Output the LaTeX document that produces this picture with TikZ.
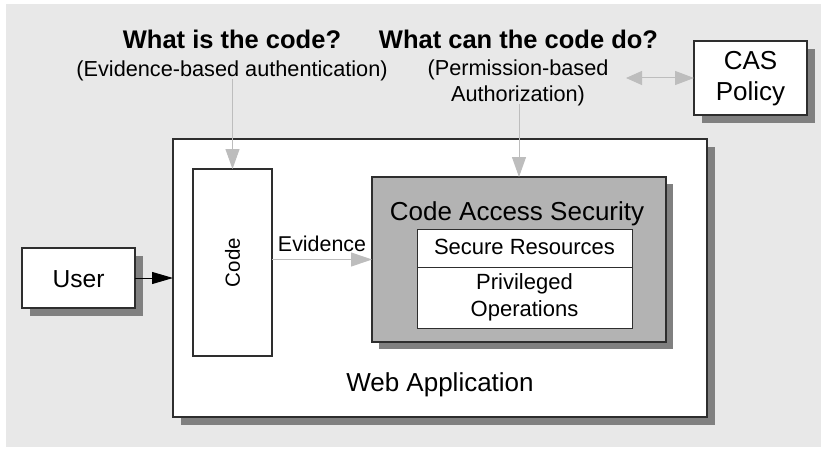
\documentclass[tikz,border=0pt]{standalone}
\usepackage{fontspec}
\setmainfont{Liberation Sans}
\usetikzlibrary{shadows,arrows.meta}
\definecolor{bgray}{HTML}{E8E8E8}
\definecolor{shgray}{HTML}{808080}
\definecolor{casgray}{HTML}{B3B3B3}
\definecolor{argray}{HTML}{BDBDBD}
\definecolor{edge}{HTML}{2E2E2E}
\tikzset{
  box/.style={draw=edge, line width=1.2pt, fill=white, inner sep=0pt, outer sep=0pt},
  shbox/.style={box, drop shadow={shadow xshift=8pt, shadow yshift=-8pt, fill=shgray, opacity=1}},
  lbl/.style={anchor=base, inner sep=0pt, font=\fontsize{22}{26}\selectfont},
  biglbl/.style={anchor=base, inner sep=0pt, font=\fontsize{26}{30}\selectfont},
  head/.style={anchor=base, inner sep=0pt, font=\fontsize{25.5}{30}\selectfont\bfseries},
  grayarrow/.style={draw=argray, line width=1pt, -{Triangle[length=20pt,width=14pt]}, color=argray},
}
\begin{document}
\begin{tikzpicture}[x=1pt,y=-1pt]
\useasboundingbox (0,0) rectangle (825,452);
\fill[bgray] (6,4) rectangle (821,447);

% headings
\node[head] (q1) at (232,49) {What is the code?};
\node[head] (q2) at (518.5,49) {What can the code do?};
\node[lbl, font=\fontsize{21.7}{26}\selectfont] (ev) at (232,77) {(Evidence-based authentication)};
\node[lbl, font=\fontsize{21.7}{26}\selectfont] (perm) at (518,76) {(Permission-based};
\node[lbl, font=\fontsize{21.7}{26}\selectfont] (auth) at (518,101) {Authorization)};

% CAS policy
\node[shbox, minimum width=113pt, minimum height=74pt] (policy) at (750.5,78) {};
\node[biglbl] (policy1) at (750.5,70) {CAS};
\node[biglbl] (policy2) at (750.5,100) {Policy};

% web application
\node[shbox, minimum width=534pt, minimum height=278pt] (web) at (440,278) {};
\node[biglbl] (weblbl) at (440,391) {Web Application};

% code
\node[box, minimum width=79pt, minimum height=187pt] (code) at (232.5,262.5) {};
\node[rotate=90, inner sep=0pt, font=\fontsize{20.5}{24}\selectfont] (codelbl) at (code.center) {Code};

% code access security
\node[box, fill=casgray, minimum width=294pt, minimum height=165pt,
      drop shadow={shadow xshift=7pt, shadow yshift=-7pt, fill=shgray, opacity=1}] (cas) at (519,259.5) {};
\node[biglbl] (caslbl) at (517,220) {Code Access Security};
\node[box, line width=1pt, minimum width=215pt, minimum height=38pt] (secure) at (524.5,248) {};
\node[box, line width=1pt, minimum width=215pt, minimum height=61pt] (priv) at (524.5,297.5) {};
\node[lbl] (securelbl) at (524.5,254) {Secure Resources};
\node[lbl] (priv1) at (524.5,289) {Privileged};
\node[lbl] (priv2) at (524.5,316) {Operations};

% user
\node[shbox, minimum width=113pt, minimum height=60pt] (user) at (78.5,278) {};
\node[lbl, font=\fontsize{24.6}{28}\selectfont] (userlbl) at (78.5,287) {User};

% connectors
\draw[grayarrow] (code.north |- 0,79) -- (code.north);
\draw[grayarrow] (cas.north |- 0,104) -- (cas.north);
\coordinate (dl) at (626,78);
\draw[draw=argray, line width=1pt, {Triangle[length=16pt,width=14pt]}-{Triangle[length=19pt,width=14pt]}, color=argray] (dl) -- (policy.west);
\node[lbl, font=\fontsize{21.4}{26}\selectfont] (evlbl) at (322,251) {Evidence};
\draw[grayarrow, -{Triangle[length=21pt,width=14pt]}] (code.east |- cas.west) -- (cas.west);
\draw[line width=1pt, -{Triangle[length=21pt,width=12pt]}] (user.east) -- (user.east -| web.west);
\end{tikzpicture}
\end{document}
